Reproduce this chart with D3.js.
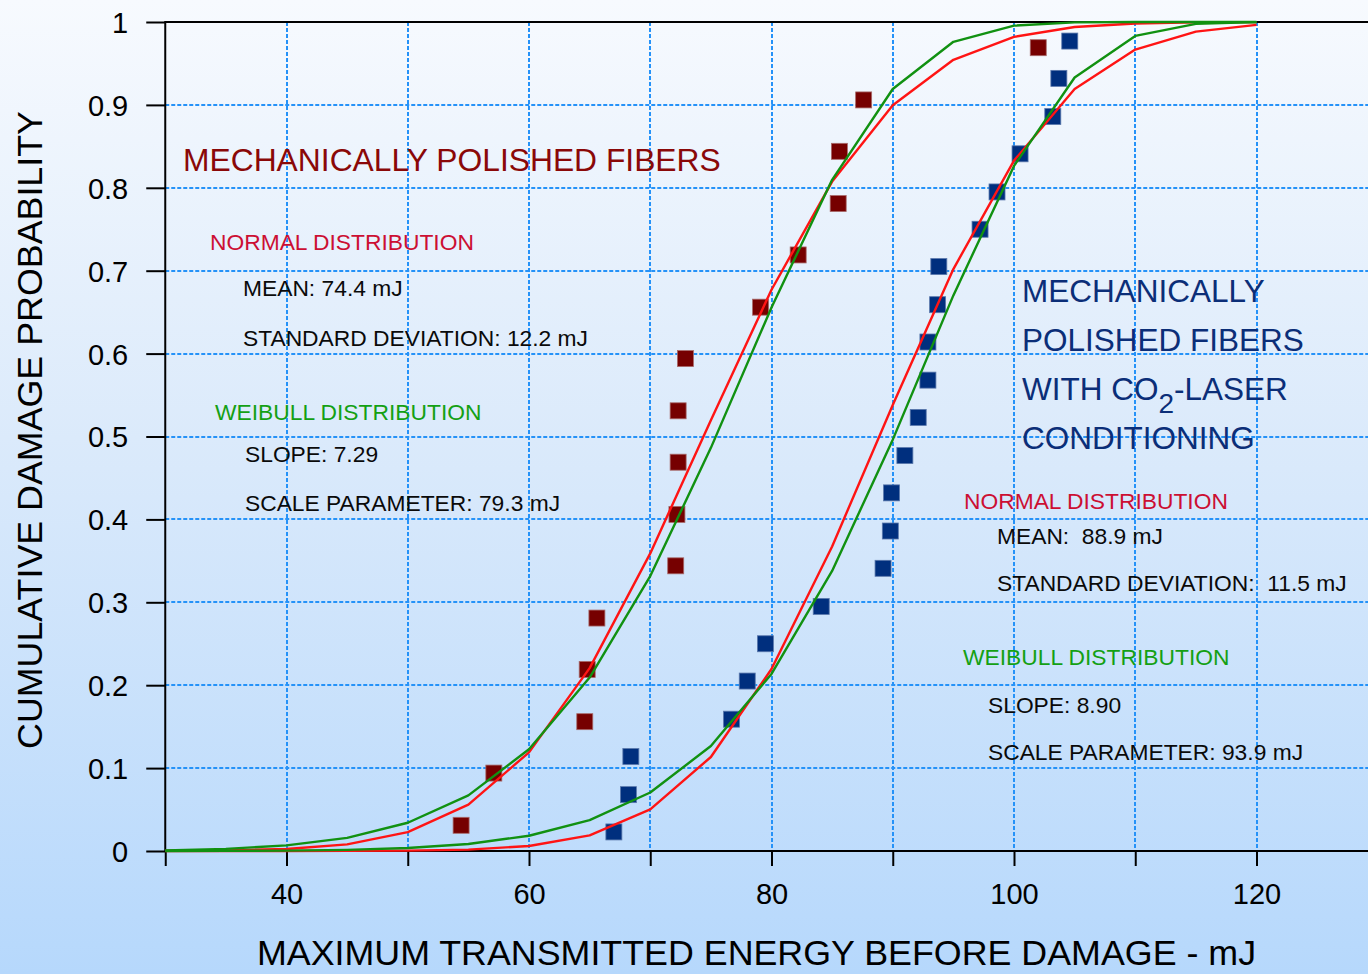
<!DOCTYPE html>
<html>
<head>
<meta charset="utf-8">
<script src="https://cdn.jsdelivr.net/npm/d3@7/dist/d3.min.js"></script>
<style>
  html, body { margin: 0; padding: 0; background: #ffffff; }
  svg { display: block; }
  text { font-family: "Liberation Sans", Arial, Helvetica, sans-serif; white-space: pre; }
</style>
</head>
<body>
<svg id="chart" width="1368" height="974"></svg>
<script>
// ---------------- DATA ----------------
const curveX = [30, 35, 40, 45, 50, 55, 60, 65, 70, 75, 80, 85, 90, 95, 100, 105, 110, 115, 120];

// Mechanically polished fibers
const normal1  = [0.0001, 0.0006, 0.0024, 0.0080, 0.0228, 0.0559, 0.1190, 0.2206, 0.3590, 0.5196, 0.6770, 0.8075, 0.8995, 0.9544, 0.9821, 0.9939, 0.9982, 0.9996, 0.9999];
const weibull1 = [0.0008, 0.0026, 0.0068, 0.0159, 0.0341, 0.0671, 0.1227, 0.2092, 0.3316, 0.4863, 0.6557, 0.8096, 0.9192, 0.9761, 0.9956, 0.9996, 1.0000, 1.0000, 1.0000];

// With CO2-laser conditioning
const normal2  = [0.0000, 0.0000, 0.0000, 0.0001, 0.0004, 0.0016, 0.0060, 0.0189, 0.0502, 0.1134, 0.2195, 0.3673, 0.5381, 0.7020, 0.8328, 0.9193, 0.9667, 0.9884, 0.9966];
const weibull2 = [0.0000, 0.0002, 0.0005, 0.0014, 0.0037, 0.0085, 0.0184, 0.0372, 0.0706, 0.1266, 0.2136, 0.3378, 0.4962, 0.6702, 0.8264, 0.9330, 0.9832, 0.9977, 0.9999];

// Measured points
const redX = [54.4, 57.1, 64.6, 64.8, 65.6, 72.1, 72.2, 72.3, 72.3, 72.9, 79.1, 82.2, 85.5, 85.6, 87.6, 102.0];
const redY = [0.031, 0.094, 0.156, 0.219, 0.281, 0.344, 0.406, 0.469, 0.531, 0.594, 0.656, 0.719, 0.781, 0.844, 0.906, 0.969];

const blueX = [67.0, 68.2, 68.4, 76.7, 78.0, 79.5, 84.1, 89.2, 89.8, 89.9, 91.0, 92.1, 92.9, 92.9, 93.7, 93.8, 97.2, 98.6, 100.5, 103.2, 103.7, 104.6];
const blueY = [0.023, 0.068, 0.114, 0.159, 0.205, 0.250, 0.295, 0.341, 0.386, 0.432, 0.477, 0.523, 0.568, 0.614, 0.659, 0.705, 0.750, 0.795, 0.841, 0.886, 0.932, 0.977];

// Ticks
const xTicks = [30, 40, 50, 60, 70, 80, 90, 100, 110, 120, 130];
const xTickLabels = ["", "40", "", "60", "", "80", "", "100", "", "120", ""];
const xGrid = [40, 50, 60, 70, 80, 90, 100, 110, 120, 130];
const yTicks = [0, 0.1, 0.2, 0.3, 0.4, 0.5, 0.6, 0.7, 0.8, 0.9, 1];
const yTickLabels = ["0", "0.1", "0.2", "0.3", "0.4", "0.5", "0.6", "0.7", "0.8", "0.9", "1"];
const yGrid = [0.1, 0.2, 0.3, 0.4, 0.5, 0.6, 0.7, 0.8, 0.9];

// ---------------- LAYOUT ----------------
const W = 1368, H = 974;
const plotLeft = 165.25, plotTop = 22, plotBottom = 851;
const x = d3.scaleLinear().domain([30, 130]).range([plotLeft, plotLeft + 100 * 12.125]);
const y = d3.scaleLinear().domain([0, 1]).range([plotBottom, plotTop]);
const snap = v => Math.round(v);

const svg = d3.select("#chart");
const defs = svg.append("defs");
const grad = defs.append("linearGradient").attr("id", "bg").attr("x1", 0).attr("y1", 0).attr("x2", 0).attr("y2", 1);
grad.append("stop").attr("offset", "0%").attr("stop-color", "#f7fafe");
grad.append("stop").attr("offset", "45%").attr("stop-color", "#dbeafb");
grad.append("stop").attr("offset", "100%").attr("stop-color", "#b6d8fc");

svg.append("rect").attr("width", W).attr("height", H).attr("fill", "url(#bg)");

// Grid
const grid = svg.append("g").attr("stroke", "#2592f8").attr("stroke-width", 2).attr("stroke-dasharray", "4,2");
grid.selectAll("line.v").data(xGrid).join("line").attr("class", "v")
  .attr("x1", d => snap(x(d))).attr("x2", d => snap(x(d))).attr("y1", plotTop).attr("y2", plotBottom);
grid.selectAll("line.h").data(yGrid).join("line").attr("class", "h")
  .attr("x1", plotLeft).attr("x2", W).attr("y1", d => snap(y(d))).attr("y2", d => snap(y(d)));

// Frame top line
svg.append("line").attr("x1", plotLeft).attr("x2", W).attr("y1", plotTop).attr("y2", plotTop).attr("stroke", "#000").attr("stroke-width", 2);

// Axes
const xAxis = svg.append("g").attr("transform", `translate(0,${plotBottom})`)
  .call(d3.axisBottom(x).tickValues(xTicks).tickSize(15).tickFormat((d, i) => xTickLabels[i]));
xAxis.select(".domain").remove();
xAxis.selectAll(".tick line").attr("stroke", "#000").attr("stroke-width", 2);
xAxis.selectAll(".tick text").attr("y", 53).attr("dy", 0).attr("fill", "#000")
  .style("font-size", "29px").style("font-family", "'Liberation Sans', Arial, sans-serif");
svg.append("line").attr("x1", plotLeft).attr("x2", W).attr("y1", plotBottom).attr("y2", plotBottom).attr("stroke", "#000").attr("stroke-width", 2);

const yAxis = svg.append("g").attr("transform", `translate(${plotLeft},0)`)
  .call(d3.axisLeft(y).tickValues(yTicks).tickSize(19).tickFormat((d, i) => yTickLabels[i]));
yAxis.select(".domain").remove();
yAxis.selectAll(".tick line").attr("stroke", "#000").attr("stroke-width", 2);
yAxis.selectAll(".tick text").attr("x", -37).attr("dy", "0.36em").attr("fill", "#000")
  .style("font-size", "29px").style("font-family", "'Liberation Sans', Arial, sans-serif");
svg.append("line").attr("x1", plotLeft).attr("x2", plotLeft).attr("y1", plotTop - 1).attr("y2", plotBottom).attr("stroke", "#000").attr("stroke-width", 2);

// Points (drawn under curves)
const sq = 16;
svg.append("g").selectAll("rect").data(redX.map((d, i) => [d, redY[i]])).join("rect")
  .attr("x", d => x(d[0]) - sq / 2).attr("y", d => y(d[1]) - sq / 2)
  .attr("width", sq).attr("height", sq)
  .attr("fill", "#760000").attr("stroke", "#a86a6a").attr("stroke-width", 0.8);
svg.append("g").selectAll("rect").data(blueX.map((d, i) => [d, blueY[i]])).join("rect")
  .attr("x", d => x(d[0]) - sq / 2).attr("y", d => y(d[1]) - sq / 2)
  .attr("width", sq).attr("height", sq)
  .attr("fill", "#002f7e").attr("stroke", "#5a78ac").attr("stroke-width", 0.8);

// Curves
const line = d3.line().x(d => x(d[0])).y(d => y(d[1]));
function curve(vals, color) {
  svg.append("path").datum(curveX.map((d, i) => [d, vals[i]]))
    .attr("d", line).attr("fill", "none").attr("stroke", color).attr("stroke-width", 2.4)
    .attr("stroke-linejoin", "round");
}
curve(normal1, "#ff1414");
curve(normal2, "#ff1414");
curve(weibull1, "#119111");
curve(weibull2, "#119111");

// Annotations
function txt(s, tx, ty, size, color) {
  return svg.append("text").attr("x", tx).attr("y", ty).attr("fill", color)
    .style("font-size", size + "px").text(s);
}
const cTitleRed = "#8a0808", cNormal = "#cc0f33", cWeib = "#14a014", cBlack = "#0a0a0a", cNavy = "#0b2e78";
const big = 31.8, small = 22.8;

txt("MECHANICALLY POLISHED FIBERS", 183, 171, big, cTitleRed);
txt("NORMAL DISTRIBUTION", 210, 250, small, cNormal);
txt("MEAN: 74.4 mJ", 243, 296, small, cBlack);
txt("STANDARD DEVIATION: 12.2 mJ", 243, 346, small, cBlack);
txt("WEIBULL DISTRIBUTION", 215, 420, small, cWeib);
txt("SLOPE: 7.29", 245, 462, small, cBlack);
txt("SCALE PARAMETER: 79.3 mJ", 245, 511, small, cBlack);

txt("MECHANICALLY", 1022, 302, 31.5, cNavy);
txt("POLISHED FIBERS", 1022, 351, 31.5, cNavy);
const co2 = txt("WITH CO", 1022, 400, 31.5, cNavy);
co2.append("tspan").attr("dy", 13).style("font-size", "28px").text("2");
co2.append("tspan").attr("dy", -13).text("-LASER");
txt("CONDITIONING", 1022, 449, 31.5, cNavy);

txt("NORMAL DISTRIBUTION", 964, 509, small, cNormal);
txt("MEAN:  88.9 mJ", 997, 544, small, cBlack);
txt("STANDARD DEVIATION:  11.5 mJ", 997, 591, small, cBlack);
txt("WEIBULL DISTRIBUTION", 963, 665, small, cWeib);
txt("SLOPE: 8.90", 988, 713, small, cBlack);
txt("SCALE PARAMETER: 93.9 mJ", 988, 760, small, cBlack);

// Axis titles
svg.append("text").attr("x", 756.5).attr("y", 965).attr("text-anchor", "middle").attr("fill", "#000")
  .style("font-size", "35.8px").text("MAXIMUM TRANSMITTED ENERGY BEFORE DAMAGE - mJ");
svg.append("text").attr("transform", "translate(42,430) rotate(-90)").attr("text-anchor", "middle").attr("fill", "#000")
  .style("font-size", "35.8px").text("CUMULATIVE DAMAGE PROBABILITY");
</script>
</body>
</html>
